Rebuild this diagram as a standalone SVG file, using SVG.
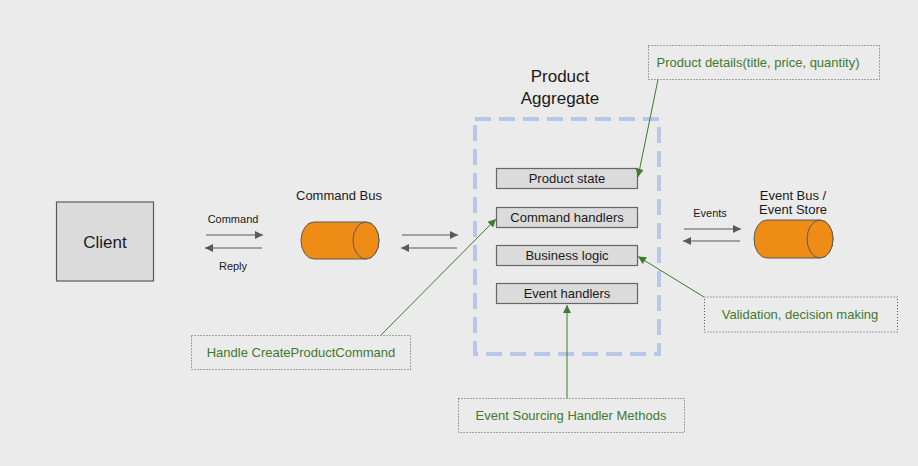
<svg xmlns="http://www.w3.org/2000/svg" width="918" height="466" viewBox="0 0 918 466">
<defs>
<style>
.t{font-family:"Liberation Sans",Arial,sans-serif;fill:#1a1a1a;text-anchor:middle}
.g{font-family:"Liberation Sans",Arial,sans-serif;fill:#3f7a2e;text-anchor:middle;font-size:13px}
.box{fill:#dcdbdc;stroke:#666;stroke-width:1.2}
.note{fill:none;stroke:#555;stroke-width:1;stroke-dasharray:1,2}
.cyl{fill:#ef8c16;stroke:#595959;stroke-width:1}
.ar{stroke:#595959;stroke-width:1.2;fill:none}
.gl{stroke:#3f7a2e;stroke-width:1;fill:none}
</style>
<marker id="ah" viewBox="0 0 10 10" refX="10" refY="5" markerWidth="10" markerHeight="8" markerUnits="userSpaceOnUse" orient="auto">
<path d="M0,0 L10,5 L0,10 Z" fill="#595959"/>
</marker>
<marker id="gh" viewBox="0 0 10 10" refX="10" refY="5" markerWidth="10" markerHeight="8" markerUnits="userSpaceOnUse" orient="auto">
<path d="M0,0 L10,5 L0,10 Z" fill="#3f7a2e"/>
</marker>
</defs>
<rect width="918" height="466" fill="#ebebeb"/>

<g id="client">
<rect x="56.5" y="202" width="97" height="79" fill="#dcdbdc" stroke="#595959" stroke-width="1.2"/>
<text class="t" x="105" y="248" font-size="17">Client</text>
</g>

<g id="command-bus">
<text class="t" x="339" y="200" font-size="13">Command Bus</text>
<path class="cyl" d="M314,222 L366,222 A13,18.5 0 0 1 366,259 L314,259 A13,18.5 0 0 1 314,222 Z"/>
<ellipse class="cyl" cx="366" cy="240.5" rx="13" ry="18.5"/>
</g>

<g id="product-aggregate">
<text class="t" x="560" y="82" font-size="17">Product</text>
<text class="t" x="560" y="104" font-size="17">Aggregate</text>
<rect x="475" y="119" width="184" height="235" fill="none" stroke="#b8c6e8" stroke-width="4" stroke-dasharray="16,8"/>
</g>

<g id="product-state">
<rect class="box" x="496.5" y="168.5" width="141" height="20"/>
<text class="t" x="567" y="183" font-size="13">Product state</text>
</g>
<g id="command-handlers">
<rect class="box" x="496.5" y="207.5" width="141" height="20"/>
<text class="t" x="567" y="222" font-size="13">Command handlers</text>
</g>
<g id="business-logic">
<rect class="box" x="496.5" y="245.5" width="141" height="20"/>
<text class="t" x="567" y="260" font-size="13">Business logic</text>
</g>
<g id="event-handlers">
<rect class="box" x="496.5" y="283.5" width="141" height="20"/>
<text class="t" x="567" y="298" font-size="13">Event handlers</text>
</g>

<g id="event-bus">
<text class="t" x="793" y="200" font-size="13">Event Bus /</text>
<text class="t" x="793" y="214" font-size="13">Event Store</text>
<path class="cyl" d="M767,220 L820,220 A13,19 0 0 1 820,258 L767,258 A13,19 0 0 1 767,220 Z"/>
<ellipse class="cyl" cx="820" cy="239" rx="13" ry="19"/>
</g>

<g id="note-product-details">
<rect class="note" x="648.5" y="45.5" width="231" height="34"/>
<text class="g" x="758" y="67">Product details(title, price, quantity)</text>
</g>
<g id="note-handle">
<rect class="note" x="191.5" y="335.5" width="219" height="34"/>
<text class="g" x="301" y="357">Handle CreateProductCommand</text>
</g>
<g id="note-validation">
<rect class="note" x="704.5" y="297" width="193" height="35"/>
<text class="g" x="800" y="319">Validation, decision making</text>
</g>
<g id="note-event-sourcing">
<rect class="note" x="458.5" y="398.5" width="226" height="34"/>
<text class="g" x="571" y="420">Event Sourcing Handler Methods</text>
</g>

<g id="connectors">
<line class="ar" x1="206" y1="235" x2="263" y2="235" marker-end="url(#ah)"/>
<line class="ar" x1="262" y1="248" x2="205" y2="248" marker-end="url(#ah)"/>
<text class="t" x="233" y="223" font-size="11">Command</text>
<text class="t" x="233" y="270" font-size="11">Reply</text>
<line class="ar" x1="402" y1="235" x2="458" y2="235" marker-end="url(#ah)"/>
<line class="ar" x1="457" y1="248" x2="401" y2="248" marker-end="url(#ah)"/>
<line class="ar" x1="684" y1="229" x2="741" y2="229" marker-end="url(#ah)"/>
<line class="ar" x1="740" y1="241" x2="683" y2="241" marker-end="url(#ah)"/>
<text class="t" x="710" y="217" font-size="11">Events</text>
<line class="gl" x1="658" y1="79.5" x2="638" y2="177" marker-end="url(#gh)"/>
<line class="gl" x1="381" y1="335" x2="496" y2="219" marker-end="url(#gh)"/>
<line class="gl" x1="704" y1="297" x2="638" y2="256.5" marker-end="url(#gh)"/>
<line class="gl" x1="567" y1="398" x2="567" y2="305" marker-end="url(#gh)"/>
</g>
</svg>
